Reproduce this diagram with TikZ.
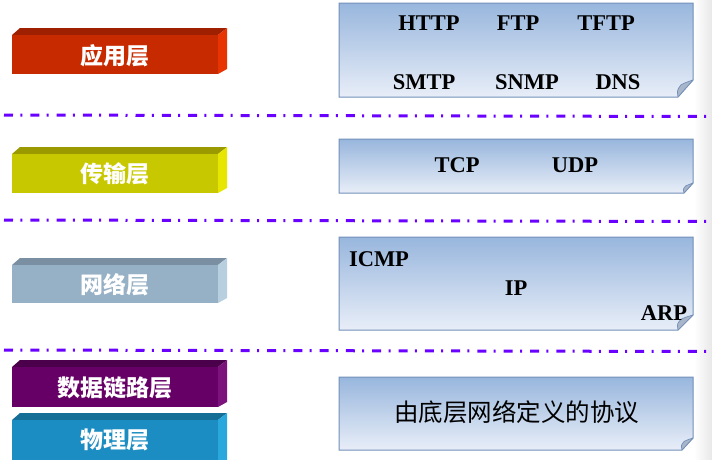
\documentclass[tikz,border=0pt]{standalone}
\usepackage{fontspec}
\setmainfont{Liberation Serif}
\newfontfamily\cjk{Noto Sans CJK SC}
\usetikzlibrary{calc}

% layer bar colours: front face, top face, side face
\definecolor{appfront}{HTML}{C82A00}
\definecolor{apptop}{HTML}{9E2000}
\definecolor{appside}{HTML}{E83400}
\definecolor{trnfront}{HTML}{C8C800}
\definecolor{trntop}{HTML}{9A9A00}
\definecolor{trnside}{HTML}{E6E600}
\definecolor{netfront}{HTML}{96B0C5}
\definecolor{nettop}{HTML}{7A90A2}
\definecolor{netside}{HTML}{B8CFE0}
\definecolor{lnkfront}{HTML}{660066}
\definecolor{lnktop}{HTML}{4A004A}
\definecolor{lnkside}{HTML}{7C127C}
\definecolor{phyfront}{HTML}{1C8DC2}
\definecolor{phytop}{HTML}{146E96}
\definecolor{physide}{HTML}{2AA8DE}
% protocol notes
\definecolor{notetop}{HTML}{98B6DD}
\definecolor{notebottom}{HTML}{E8EEF8}
\definecolor{noteedge}{HTML}{7390BA}
\definecolor{notefold}{HTML}{A9B5C8}
\definecolor{divcol}{HTML}{6A00FF}

\tikzset{
  layerlabel/.style={text=white, font=\cjk\bfseries\fontsize{23}{23}\selectfont, inner sep=0pt},
  proto/.style={font=\bfseries\fontsize{22.5}{22.5}\selectfont, inner sep=0pt},
  protocjk/.style={font=\cjk\fontsize{24.5}{24.5}\selectfont, inner sep=0pt},
  note/.style={draw=noteedge, line width=1pt, top color=notetop, bottom color=notebottom},
  flap/.style={fill=notefold, draw=noteedge, line width=0.7pt, line join=round},
  divider/.style={draw=divcol, line width=3pt, dash pattern=on 9pt off 7.3pt on 2pt off 8pt}
}

% 3D layer bar: #1 name, #2 front top y, #3 front bottom y, #4 colour prefix, #5 label, #6 label y
\newcommand\layerbar[6]{%
  \fill[#4top] (12,#2) -- (20,#2-7) -- (227,#2-7) -- (218,#2) -- cycle;
  \fill[#4side] (218,#2) -- (227,#2-7) -- (227,#3-5) -- (218,#3) -- cycle;
  \fill[#4front] (12,#2) rectangle (218,#3);
  \node[layerlabel] (#1) at (115,#6) {#5};
}

% protocol note with folded corner: #1 top y, #2 bottom y, #3 fold width, #4 fold height
\newcommand\protonote[4]{%
  \draw[note] (339,#1) -- (693,#1) -- (693,#2-#4) -- (693-#3,#2) -- (339,#2) -- cycle;
  \draw[flap] (693-#3,#2) .. controls (692-#3,#2-0.4*#4) .. (693-0.8*#3,#2-0.72*#4)
     .. controls (693-0.5*#3,#2-0.85*#4) .. (693,#2-#4) -- cycle;
}

\begin{document}
\begin{tikzpicture}[x=1pt,y=-1pt]
  \useasboundingbox (0,0) rectangle (712,459);
  \clip (0,0) rectangle (712,459);
  \fill[white] (0,0) rectangle (712,459);
  \shade[left color=white, right color=black!9] (694,0) rectangle (712,459);

  % layer bars
  \layerbar{app}{35}{74}{app}{应用层}{56}
  \layerbar{trn}{154}{193}{trn}{传输层}{174}
  \layerbar{net}{265}{303}{net}{网络层}{285}
  \layerbar{lnk}{367}{407}{lnk}{数据链路层}{388}
  \layerbar{phy}{420}{470}{phy}{物理层}{440}

  % dividers between layers
  \coordinate (d1a) at (4,115);   \coordinate (d1b) at (712,116.5);
  \coordinate (d2a) at (4,220);   \coordinate (d2b) at (712,221.5);
  \coordinate (d3a) at (4,350);   \coordinate (d3b) at (712,351.5);
  \draw[divider] (d1a) -- (d1b);
  \draw[divider] (d2a) -- (d2b);
  \draw[divider] (d3a) -- (d3b);

  % protocol notes
  \protonote{3}{97}{15}{17}
  \protonote{139}{193}{9}{10}
  \protonote{237}{330}{15}{15}
  \protonote{377}{450}{11}{12}

  % application layer protocols
  \node[proto] (http) at (429,23.5) {HTTP};
  \node[proto] (ftp)  at (518,23.5) {FTP};
  \node[proto] (tftp) at (606,23.5) {TFTP};
  \node[proto] (smtp) at (424,82) {SMTP};
  \node[proto] (snmp) at (527,82) {SNMP};
  \node[proto] (dns)  at (618,82) {DNS};
  % transport layer protocols
  \node[proto] (tcp) at (457,165.5) {TCP};
  \node[proto] (udp) at (575,165.5) {UDP};
  % network layer protocols
  \node[proto] (icmp) at (379,259.5) {ICMP};
  \node[proto] (ip)   at (516,288) {IP};
  \node[proto] (arp)  at (664,313.5) {ARP};
  % lower layers
  \node[protocjk] (lower) at (516.5,412) {由底层网络定义的协议};
\end{tikzpicture}
\end{document}
